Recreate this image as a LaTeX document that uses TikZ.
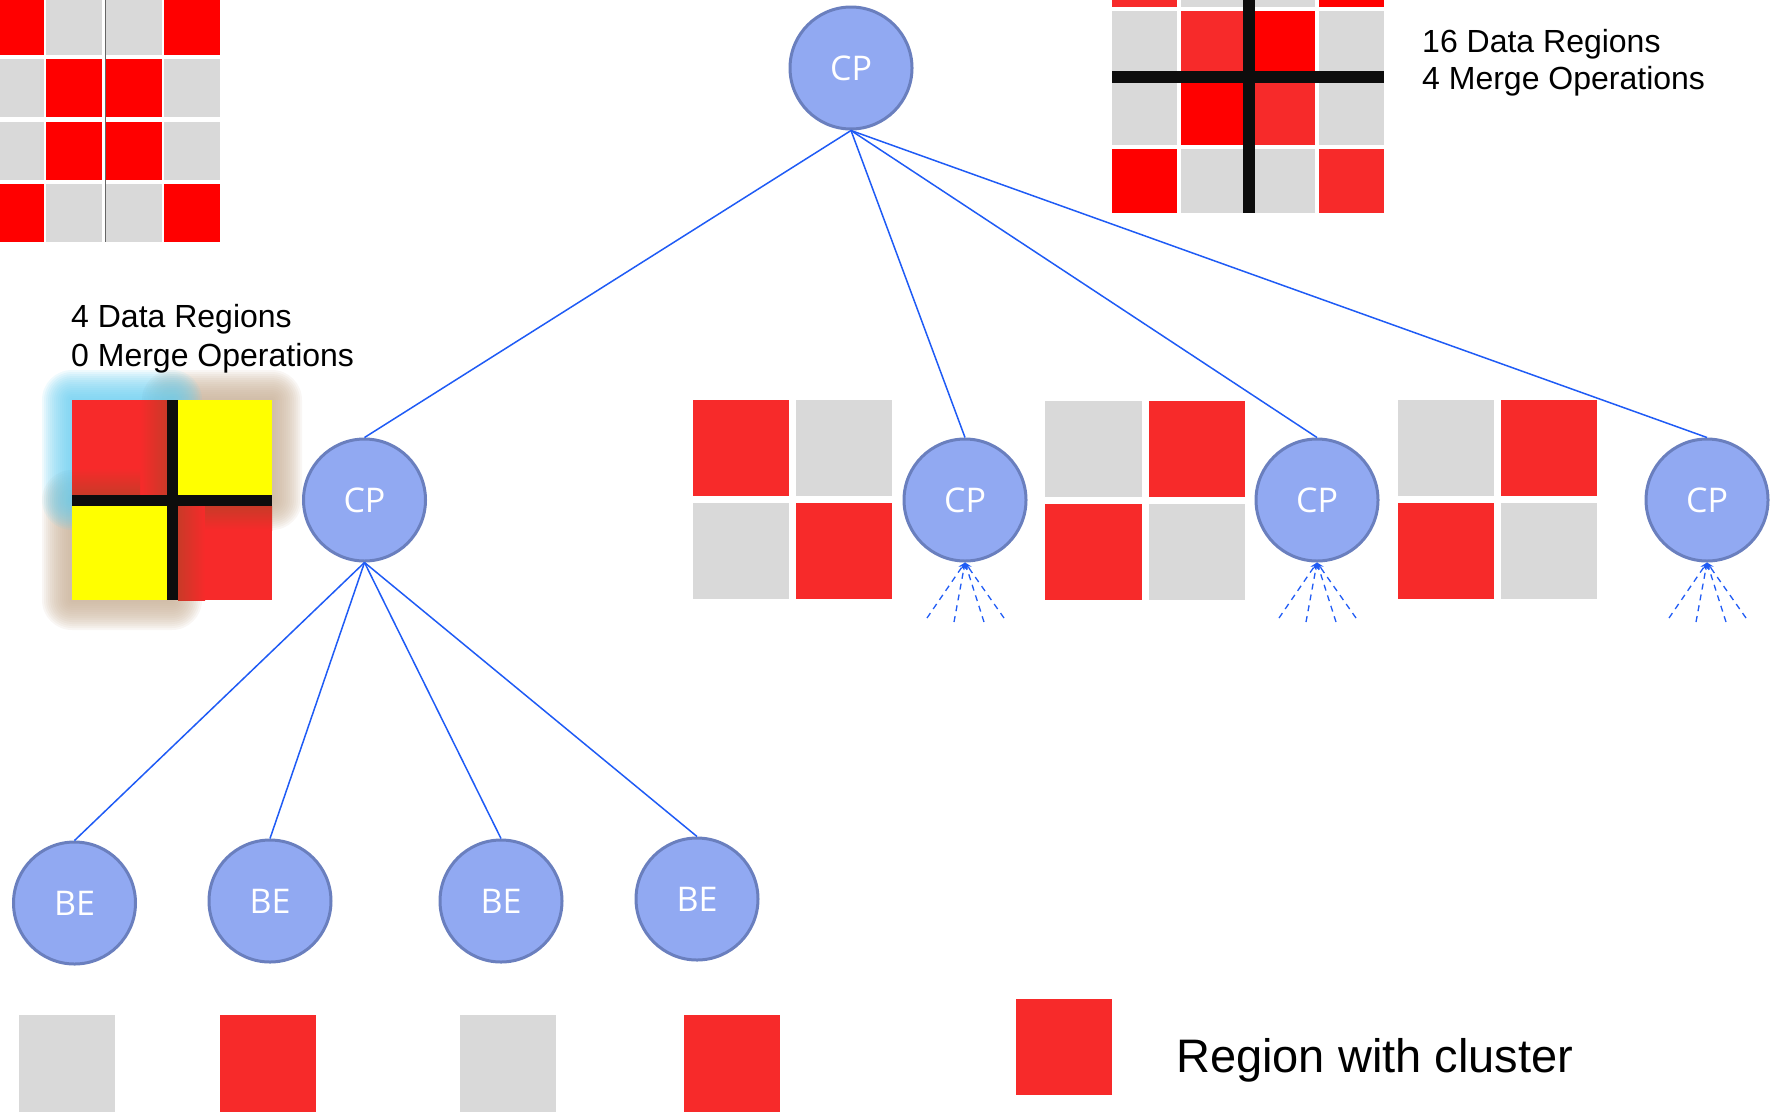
\documentclass[tikz,border=0pt]{standalone}
\usepackage{fontspec}
\setmainfont{Liberation Sans}
\newfontfamily\nodefont{Open Sans}
\usetikzlibrary{arrows.meta}
\definecolor{cred}{HTML}{F72A2A}
\definecolor{pred}{HTML}{FF0000}
\definecolor{cgray}{HTML}{D9D9D9}
\definecolor{cyel}{HTML}{FFFF00}
\definecolor{nfill}{HTML}{91A9F2}
\definecolor{ndraw}{HTML}{6A7FBE}
\definecolor{lblue}{HTML}{1F5BF5}
\definecolor{glowc}{HTML}{6ECFF0}
\definecolor{glowt}{HTML}{C9B198}
\definecolor{barc}{HTML}{0D0D0D}
\definecolor{dred}{HTML}{C93A28}
\begin{document}
\begin{tikzpicture}[x=1pt,y=-1pt,
  proc/.style={circle, fill=nfill, draw=ndraw, line width=3pt, minimum size=122pt, inner sep=0pt, text=white, font=\nodefont\fontsize{34}{34}\selectfont},
  link/.style={draw=lblue, line width=1.5pt},
  fan/.style={draw=lblue, line width=1.3pt, dash pattern=on 6pt off 5pt, -{Stealth[length=7pt,width=6pt]}},
  lbl/.style={font=\fontsize{32}{39}\selectfont, anchor=base west, inner sep=0pt},
  bar/.style={fill=barc}
]
\useasboundingbox (0,0) rectangle (1779,1112);

% ---------- top-left 4x4 grid ----------
\fill[pred]  (0,0) rectangle (44,55);
\fill[cgray] (46,0) rectangle (102,55);
\fill[cgray] (105,0) rectangle (162,55);
\fill[pred]  (164,0) rectangle (220,55);
\fill[cgray] (0,59) rectangle (44,117);
\fill[pred]  (46,59) rectangle (102,117);
\fill[pred]  (105,59) rectangle (162,117);
\fill[cgray] (164,59) rectangle (220,117);
\fill[cgray] (0,122) rectangle (44,180);
\fill[pred]  (46,122) rectangle (102,180);
\fill[pred]  (105,122) rectangle (162,180);
\fill[cgray] (164,122) rectangle (220,180);
\fill[pred]  (0,184) rectangle (44,242);
\fill[cgray] (46,184) rectangle (102,242);
\fill[cgray] (105,184) rectangle (162,242);
\fill[pred]  (164,184) rectangle (220,242);
\draw[line width=1pt, black!60] (105.5,0) -- (105.5,242);

% ---------- top-right 4x4 grid ----------
\fill[cred]  (1112,-55) rectangle (1177,7);
\fill[cgray] (1181,-55) rectangle (1246,7);
\fill[cgray] (1250,-55) rectangle (1315,7);
\fill[pred]  (1319,-55) rectangle (1384,7);
\fill[cgray] (1112,11) rectangle (1177,76);
\fill[cred]  (1181,11) rectangle (1249,76);
\fill[pred]  (1249,11) rectangle (1315,76);
\fill[cgray] (1319,11) rectangle (1384,76);
\fill[cgray] (1112,79) rectangle (1177,145);
\fill[pred]  (1181,79) rectangle (1249,145);
\fill[cred]  (1249,79) rectangle (1315,145);
\fill[cgray] (1319,79) rectangle (1384,145);
\fill[pred]  (1112,149) rectangle (1177,213);
\fill[cgray] (1181,149) rectangle (1246,213);
\fill[cgray] (1250,149) rectangle (1315,213);
\fill[cred]  (1319,149) rectangle (1384,213);
\fill[bar] (1243,0) rectangle (1255,213);
\fill[bar] (1112,71) rectangle (1384,83);

\node[lbl] (t16a) at (1422,52) {16 Data Regions};
\node[lbl] (t16b) at (1422,89) {4 Merge Operations};

% ---------- left merged square with glow ----------
\foreach \d in {30,28,...,2} {
  \fill[glowt, opacity=0.11, rounded corners=\d pt] ({172-\d},{400-\d}) rectangle ({272+\d},{500+\d});
  \fill[glowt, opacity=0.11, rounded corners=\d pt] ({72-\d},{500-\d}) rectangle ({172+\d},{600+\d});
}
\foreach \d in {30,28,...,2} {
  \fill[glowc, opacity=0.11, rounded corners=\d pt] ({72-\d},{400-\d}) rectangle ({172+\d},{500+\d});
}
\fill[cred] (72,400) rectangle (172,500);
\fill[cyel] (172,400) rectangle (272,500);
\fill[cyel] (72,500) rectangle (172,600);
\fill[cred] (172,500) rectangle (272,600);
\shade[left color=cred, right color=dred] (140,400) rectangle (167,495);
\shade[top color=cred, bottom color=dred] (72,468) rectangle (140,495);
\shade[left color=dred, right color=cred] (178,506) rectangle (205,600);
\shade[top color=dred, bottom color=cred] (205,506) rectangle (272,530);
\fill[bar] (167,400) rectangle (178,600);
\fill[bar] (72,495) rectangle (272,506);

\node[lbl] (t4a) at (71,327) {4 Data Regions};
\node[lbl] (t4b) at (71,366) {0 Merge Operations};

% ---------- middle 2x2 groups ----------
\fill[cred]  (693,400) rectangle (789,496);
\fill[cgray] (796,400) rectangle (892,496);
\fill[cgray] (693,503) rectangle (789,599);
\fill[cred]  (796,503) rectangle (892,599);

\fill[cgray] (1045,401) rectangle (1142,497);
\fill[cred]  (1149,401) rectangle (1245,497);
\fill[cred]  (1045,504) rectangle (1142,600);
\fill[cgray] (1149,504) rectangle (1245,600);

\fill[cgray] (1398,400) rectangle (1494,496);
\fill[cred]  (1501,400) rectangle (1597,496);
\fill[cred]  (1398,503) rectangle (1494,599);
\fill[cgray] (1501,503) rectangle (1597,599);

% ---------- bottom squares and legend ----------
\fill[cgray] (19,1015) rectangle (115,1112);
\fill[cred]  (220,1015) rectangle (316,1112);
\fill[cgray] (460,1015) rectangle (556,1112);
\fill[cred]  (684,1015) rectangle (780,1112);
\fill[cred]  (1016,999) rectangle (1112,1095);
\node[font=\fontsize{47}{50}\selectfont, anchor=base west, inner sep=0pt] (legend) at (1176,1072) {Region with cluster};

% ---------- nodes ----------
\node[proc] (top) at (851,68) {CP};
\node[proc] (cpa) at (364.5,500) {CP};
\node[proc] (cpb) at (965,500) {CP};
\node[proc] (cpc) at (1317,500) {CP};
\node[proc] (cpd) at (1707,500) {CP};
\node[proc] (be1) at (74.5,903) {BE};
\node[proc] (be2) at (270,901) {BE};
\node[proc] (be3) at (501,901) {BE};
\node[proc] (be4) at (697,899) {BE};

% ---------- connectors ----------
\draw[link] (top.south) -- (cpa.north);
\draw[link] (top.south) -- (cpb.north);
\draw[link] (top.south) -- (cpc.north);
\draw[link] (top.south) -- (cpd.north);
\draw[link] (cpa.south) -- (be1.north);
\draw[link] (cpa.south) -- (be2.north);
\draw[link] (cpa.south) -- (be3.north);
\draw[link] (cpa.south) -- (be4.north);

% ---------- dashed fans ----------
\foreach \n/\cx in {cpb/965, cpc/1317, cpd/1707} {
  \coordinate (\n f1) at ({\cx-38},618);
  \coordinate (\n f2) at ({\cx-11},622);
  \coordinate (\n f3) at ({\cx+19},622);
  \coordinate (\n f4) at ({\cx+39},618);
  \foreach \k in {1,2,3,4} \draw[fan] (\n f\k) -- (\n.south);
}
\end{tikzpicture}
\end{document}
